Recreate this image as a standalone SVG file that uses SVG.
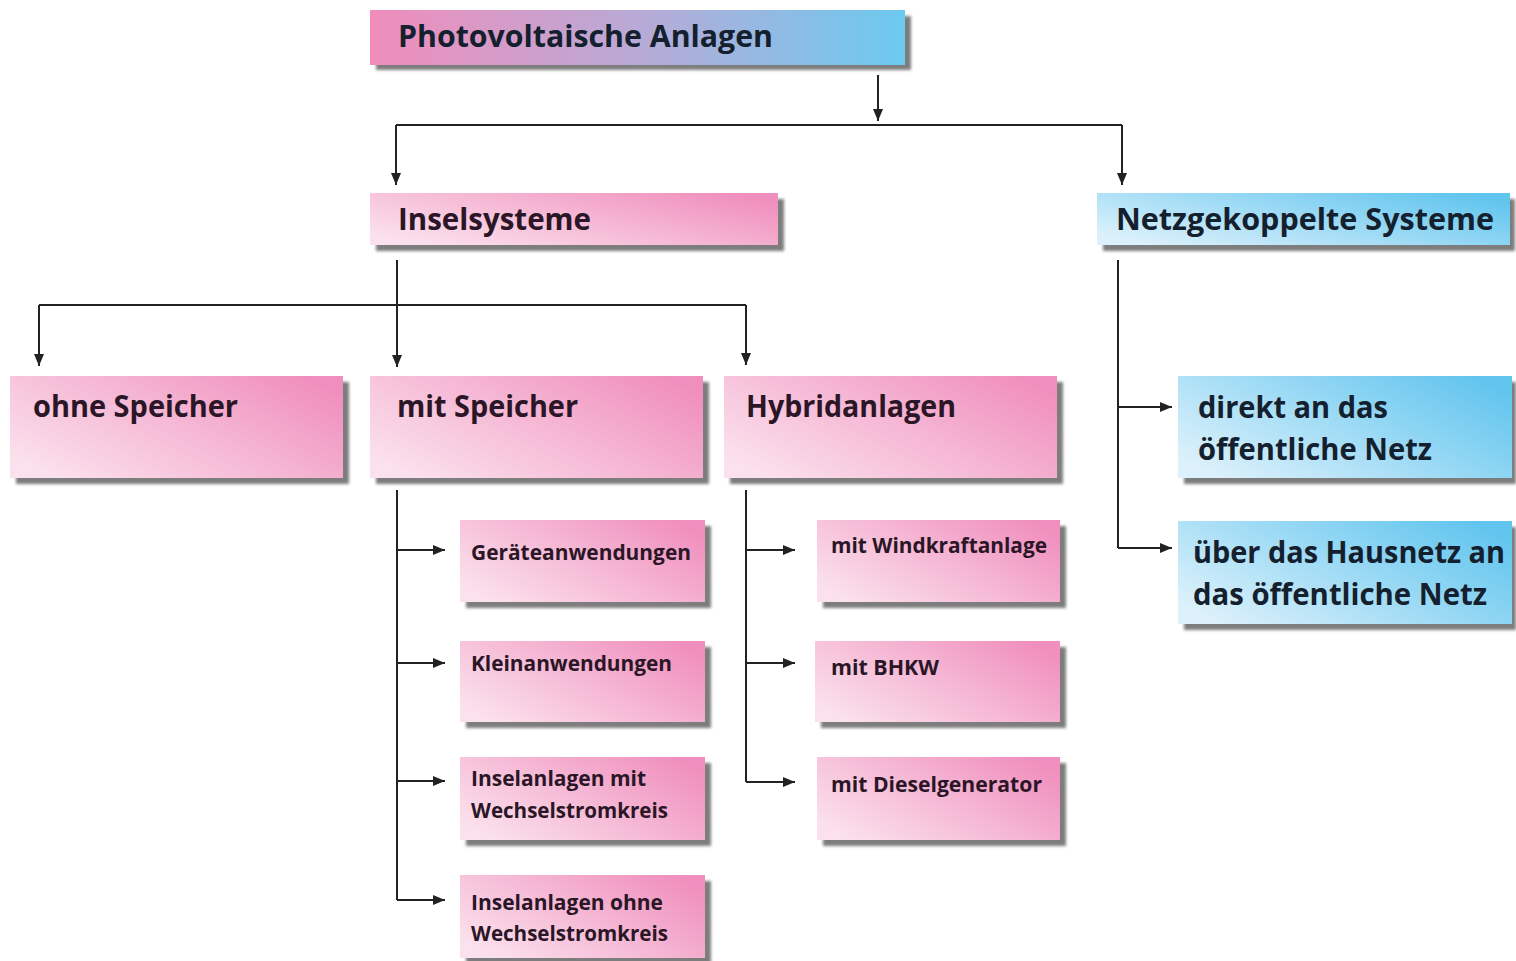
<svg xmlns="http://www.w3.org/2000/svg" width="1516" height="961" viewBox="0 0 1516 961">
<defs>
<linearGradient id="gTop" x1="0" y1="0" x2="1" y2="0">
<stop offset="0" stop-color="#f18dbb"/><stop offset="0.5" stop-color="#b8aad6"/><stop offset="1" stop-color="#6ccaf0"/>
</linearGradient>
<linearGradient id="gPink" x1="0" y1="0.8" x2="1" y2="0.2">
<stop offset="0" stop-color="#fbe1ed"/><stop offset="0.55" stop-color="#f5b5d3"/><stop offset="1" stop-color="#f08fbd"/>
</linearGradient>
<linearGradient id="gBlue" x1="0" y1="0.8" x2="1" y2="0.2">
<stop offset="0" stop-color="#dcf1fb"/><stop offset="0.5" stop-color="#9fdbf5"/><stop offset="1" stop-color="#62c5ee"/>
</linearGradient>
<filter id="blur" x="-5%" y="-10%" width="110%" height="120%"><feGaussianBlur stdDeviation="1.5"/></filter>
<marker id="arr" viewBox="0 0 12 10" refX="12" refY="5" markerWidth="12" markerHeight="10" markerUnits="userSpaceOnUse" orient="auto">
<path d="M0,0 L12,5 L0,10 z" fill="#222"/>
</marker>
</defs>
<style>
.sh{fill:#7d7d7d;filter:url(#blur)}
.pk{fill:url(#gPink)}
.bl{fill:url(#gBlue)}
.t{font-family:"Open Sans","Noto Sans",sans-serif;font-weight:700;fill:#2a1626}
.tb{font-family:"Open Sans","Noto Sans",sans-serif;font-weight:700;fill:#14202e}
.L{font-size:30px}
.S{font-size:22px}
.c{fill:none;stroke:#222;stroke-width:2}
.a{fill:none;stroke:#222;stroke-width:2;marker-end:url(#arr)}
</style>
<rect width="1516" height="961" fill="#ffffff"/>
<g id="connectors">
<path class="a" d="M878,75 V121"/>
<path class="c" d="M396,125 H1122"/>
<path class="a" d="M396,125 V185"/>
<path class="a" d="M1122,125 V185"/>
<path class="c" d="M397,260 V305"/>
<path class="a" d="M397,305 V367"/>
<path class="c" d="M39,305 H746"/>
<path class="a" d="M39,305 V366"/>
<path class="a" d="M746,305 V365"/>
<path class="c" d="M397,490 V900"/>
<path class="a" d="M397,550 H445"/>
<path class="a" d="M397,663 H445"/>
<path class="a" d="M397,781 H445"/>
<path class="a" d="M397,900 H445"/>
<path class="c" d="M746,490 V782"/>
<path class="a" d="M746,550 H795"/>
<path class="a" d="M746,663 H795"/>
<path class="a" d="M746,782 H795"/>
<path class="c" d="M1118,260 V548"/>
<path class="a" d="M1118,407 H1172"/>
<path class="a" d="M1118,548 H1172"/>
</g>
<g id="n-photovoltaik">
<rect class="sh" x="376" y="16" width="535" height="54"/>
<rect x="370" y="10" width="535" height="55" fill="url(#gTop)"/>
<text class="tb L" x="398" y="47" textLength="375" lengthAdjust="spacingAndGlyphs">Photovoltaische Anlagen</text>
</g>
<g id="n-insel">
<rect class="sh" x="376" y="199" width="408" height="52"/>
<rect class="pk" x="370" y="193" width="408" height="52"/>
<text class="t L" x="398" y="230" textLength="193" lengthAdjust="spacingAndGlyphs">Inselsysteme</text>
</g>
<g id="n-netz">
<rect class="sh" x="1103" y="199" width="412" height="52"/>
<rect class="bl" x="1097" y="193" width="413" height="52"/>
<text class="tb L" x="1116" y="230" textLength="378" lengthAdjust="spacingAndGlyphs">Netzgekoppelte Systeme</text>
</g>
<g id="n-ohne">
<rect class="sh" x="16" y="382" width="333" height="102"/>
<rect class="pk" x="10" y="376" width="333" height="102"/>
<text class="t L" x="33" y="417" textLength="205" lengthAdjust="spacingAndGlyphs">ohne Speicher</text>
</g>
<g id="n-mit">
<rect class="sh" x="376" y="382" width="333" height="102"/>
<rect class="pk" x="370" y="376" width="333" height="102"/>
<text class="t L" x="397" y="417" textLength="181" lengthAdjust="spacingAndGlyphs">mit Speicher</text>
</g>
<g id="n-hybrid">
<rect class="sh" x="730" y="382" width="333" height="102"/>
<rect class="pk" x="724" y="376" width="333" height="102"/>
<text class="t L" x="746" y="417" textLength="210" lengthAdjust="spacingAndGlyphs">Hybridanlagen</text>
</g>
<g id="n-direkt">
<rect class="sh" x="1184" y="382" width="332" height="102"/>
<rect class="bl" x="1178" y="376" width="334" height="102"/>
<text class="tb L" x="1198" y="418" textLength="190" lengthAdjust="spacingAndGlyphs">direkt an das</text>
<text class="tb L" x="1198" y="460" textLength="234" lengthAdjust="spacingAndGlyphs">öffentliche Netz</text>
</g>
<g id="n-haus">
<rect class="sh" x="1184" y="527" width="332" height="103"/>
<rect class="bl" x="1178" y="521" width="334" height="103"/>
<text class="tb L" x="1193" y="563" textLength="312" lengthAdjust="spacingAndGlyphs">über das Hausnetz an</text>
<text class="tb L" x="1193" y="605" textLength="294" lengthAdjust="spacingAndGlyphs">das öffentliche Netz</text>
</g>
<g id="n-geraete">
<rect class="sh" x="466" y="526" width="245" height="82"/>
<rect class="pk" x="460" y="520" width="245" height="82"/>
<text class="t S" x="471" y="560" textLength="220" lengthAdjust="spacingAndGlyphs">Geräteanwendungen</text>
</g>
<g id="n-klein">
<rect class="sh" x="466" y="647" width="245" height="81"/>
<rect class="pk" x="460" y="641" width="245" height="81"/>
<text class="t S" x="471" y="671" textLength="201" lengthAdjust="spacingAndGlyphs">Kleinanwendungen</text>
</g>
<g id="n-inselmit">
<rect class="sh" x="466" y="763" width="245" height="83"/>
<rect class="pk" x="460" y="757" width="245" height="83"/>
<text class="t S" x="471" y="786" textLength="175" lengthAdjust="spacingAndGlyphs">Inselanlagen mit</text>
<text class="t S" x="471" y="818" textLength="197" lengthAdjust="spacingAndGlyphs">Wechselstromkreis</text>
</g>
<g id="n-inselohne">
<rect class="sh" x="466" y="881" width="245" height="83"/>
<rect class="pk" x="460" y="875" width="245" height="83"/>
<text class="t S" x="471" y="910" textLength="192" lengthAdjust="spacingAndGlyphs">Inselanlagen ohne</text>
<text class="t S" x="471" y="941" textLength="197" lengthAdjust="spacingAndGlyphs">Wechselstromkreis</text>
</g>
<g id="n-wind">
<rect class="sh" x="823" y="526" width="243" height="82"/>
<rect class="pk" x="817" y="520" width="243" height="82"/>
<text class="t S" x="831" y="553" textLength="216" lengthAdjust="spacingAndGlyphs">mit Windkraftanlage</text>
</g>
<g id="n-bhkw">
<rect class="sh" x="821" y="647" width="245" height="81"/>
<rect class="pk" x="815" y="641" width="245" height="81"/>
<text class="t S" x="831" y="675" textLength="108" lengthAdjust="spacingAndGlyphs">mit BHKW</text>
</g>
<g id="n-diesel">
<rect class="sh" x="823" y="763" width="243" height="83"/>
<rect class="pk" x="817" y="757" width="243" height="83"/>
<text class="t S" x="831" y="792" textLength="211" lengthAdjust="spacingAndGlyphs">mit Dieselgenerator</text>
</g>
</svg>
